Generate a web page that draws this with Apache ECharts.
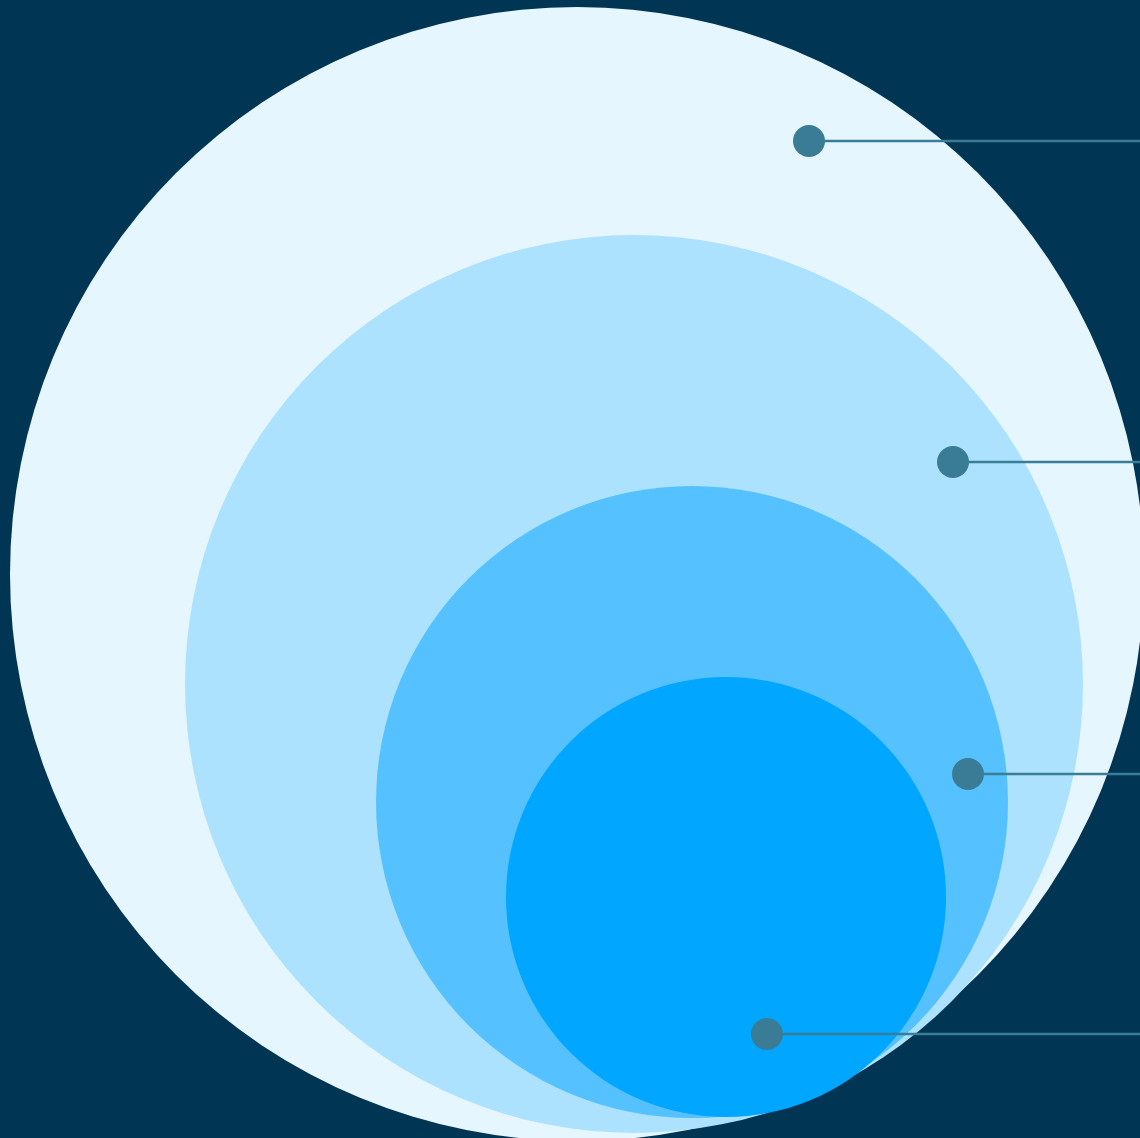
<!DOCTYPE html>
<html>
<head>
<meta charset="utf-8">
<style>
html,body{margin:0;padding:0;background:#003654;}
#chart{width:1140px;height:1138px;}
</style>
<script src="https://cdn.jsdelivr.net/npm/echarts@6/dist/echarts.min.js"></script>
</head>
<body>
<div id="chart"></div>
<script>
// Nested circles (centre x, centre y, radius) in chart units
const circleNames = ['Level 1', 'Level 2', 'Level 3', 'Level 4'];
const circleCx = [577, 634, 692, 726];
const circleCy = [574, 684, 802, 897];
const circleR = [567, 449, 316, 220];
const circleColors = ['#E6F6FF', '#ADE2FF', '#55C2FF', '#00A6FF'];

// Marker dots with leader lines to the right edge
const dotX = [809, 953, 968, 767];
const dotY = [141, 462, 774, 1034];

const X_MAX = 1140;
const Y_MAX = 1138;

const circleData = circleNames.map((n, i) => ({ name: n, value: [circleCx[i], circleCy[i], circleR[i]], itemStyle: { color: circleColors[i] } }));
const dotData = dotX.map((x, i) => [x, dotY[i]]);

const chart = echarts.init(document.getElementById('chart'));
chart.setOption({
  backgroundColor: '#003654',
  animation: false,
  grid: { left: 0, right: 0, top: 0, bottom: 0 },
  xAxis: { type: 'value', min: 0, max: X_MAX, show: false },
  yAxis: { type: 'value', min: 0, max: Y_MAX, inverse: true, show: false },
  series: [
    {
      type: 'custom',
      coordinateSystem: 'cartesian2d',
      clip: false,
      data: circleData,
      encode: { x: 0, y: 1 },
      renderItem: function (params, api) {
        const c = api.coord([api.value(0), api.value(1)]);
        const s = api.size([api.value(2), api.value(2)]);
        return {
          type: 'circle',
          shape: { cx: c[0], cy: c[1], r: s[0] },
          style: { fill: circleColors[params.dataIndex] }
        };
      }
    },
    {
      type: 'custom',
      coordinateSystem: 'cartesian2d',
      data: dotData,
      encode: { x: 0, y: 1 },
      renderItem: function (params, api) {
        const p = api.coord([api.value(0), api.value(1)]);
        const e = api.coord([X_MAX, api.value(1)]);
        return {
          type: 'line',
          shape: { x1: p[0], y1: p[1], x2: e[0], y2: e[1] },
          style: { stroke: '#3A7D96', lineWidth: 2.5 }
        };
      }
    },
    {
      type: 'scatter',
      data: dotData,
      symbol: 'circle',
      symbolSize: 32,
      itemStyle: { color: '#3A7C96', opacity: 1 },
      silent: true
    }
  ]
});
</script>
</body>
</html>
